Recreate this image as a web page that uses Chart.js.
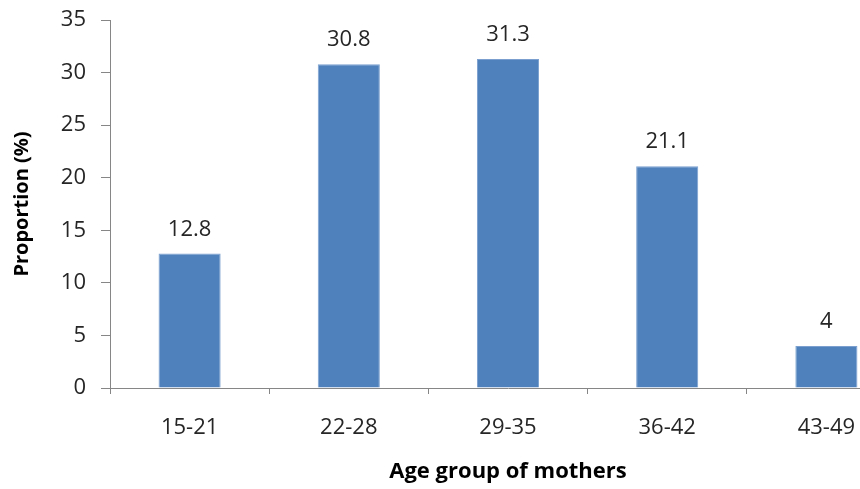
<!DOCTYPE html>
<html>
<head>
<meta charset="utf-8">
<script src="https://cdn.jsdelivr.net/npm/chart.js@4.4.0/dist/chart.umd.min.js"></script>
<style>
  html, body { margin: 0; padding: 0; background: #ffffff; overflow: hidden; }
  #wrap { position: relative; width: 920px; height: 489px; }
</style>
</head>
<body>
<div id="wrap"><canvas id="c" width="920" height="489"></canvas></div>
<script>
const categories = ['15-21', '22-28', '29-35', '36-42', '43-49'];
const proportions = [12.8, 30.8, 31.3, 21.1, 4];
const yTicks = [0, 5, 10, 15, 20, 25, 30, 35];
const xTitle = 'Age group of mothers';
const yTitle = 'Proportion (%)';

const FONT = 'Open Sans';
const axisGrey = '#868686';

const valueLabels = {
  id: 'valueLabels',
  afterDatasetsDraw(chart) {
    const ctx = chart.ctx;
    const meta = chart.getDatasetMeta(0);
    ctx.save();
    ctx.font = '22px "' + FONT + '"';
    ctx.fillStyle = '#262626';
    ctx.textAlign = 'center';
    ctx.textBaseline = 'middle';
    meta.data.forEach((bar, i) => {
      ctx.fillText(String(proportions[i]), bar.x, bar.y - 24);
    });
    ctx.restore();
  }
};

new Chart(document.getElementById('c'), {
  type: 'bar',
  data: {
    labels: categories,
    datasets: [{
      data: proportions,
      backgroundColor: '#4F81BD',
      borderColor: '#7BA0CF',
      borderWidth: 1,
      barPercentage: 0.39,
      categoryPercentage: 1.0
    }]
  },
  options: {
    responsive: false,
    animation: false,
    devicePixelRatio: 1,
    layout: { padding: { top: 20, right: 14, left: 0, bottom: 0 } },
    plugins: { legend: { display: false }, tooltip: { enabled: false } },
    scales: {
      x: {
        offset: true,
        grid: { offset: true, drawOnChartArea: false, drawTicks: true, tickLength: 6, color: axisGrey },
        border: { display: true, color: axisGrey, width: 1 },
        ticks: { color: '#262626', font: { family: FONT, size: 22 }, padding: 21, maxRotation: 0 },
        title: { display: true, text: xTitle, color: '#000000', font: { family: FONT, size: 22, weight: 'bold' }, padding: { top: 0, bottom: 4 } },
        afterFit(scale) { scale.height = 101; }
      },
      y: {
        min: 0, max: 35,
        afterBuildTicks(scale) { scale.ticks = yTicks.map(v => ({ value: v })); },
        grid: { drawOnChartArea: false, drawTicks: true, tickLength: 9, color: axisGrey },
        border: { display: true, color: axisGrey, width: 1 },
        ticks: { color: '#262626', font: { family: FONT, size: 22 }, padding: 15 },
        title: { display: true, text: yTitle, color: '#000000', font: { family: FONT, size: 20, weight: 'bold' }, padding: { top: 10, bottom: 0 } },
        afterFit(scale) { scale.width = 110; scale.paddingTop = 0; scale.paddingBottom = 0; }
      }
    }
  },
  plugins: [valueLabels]
});
</script>
</body>
</html>
